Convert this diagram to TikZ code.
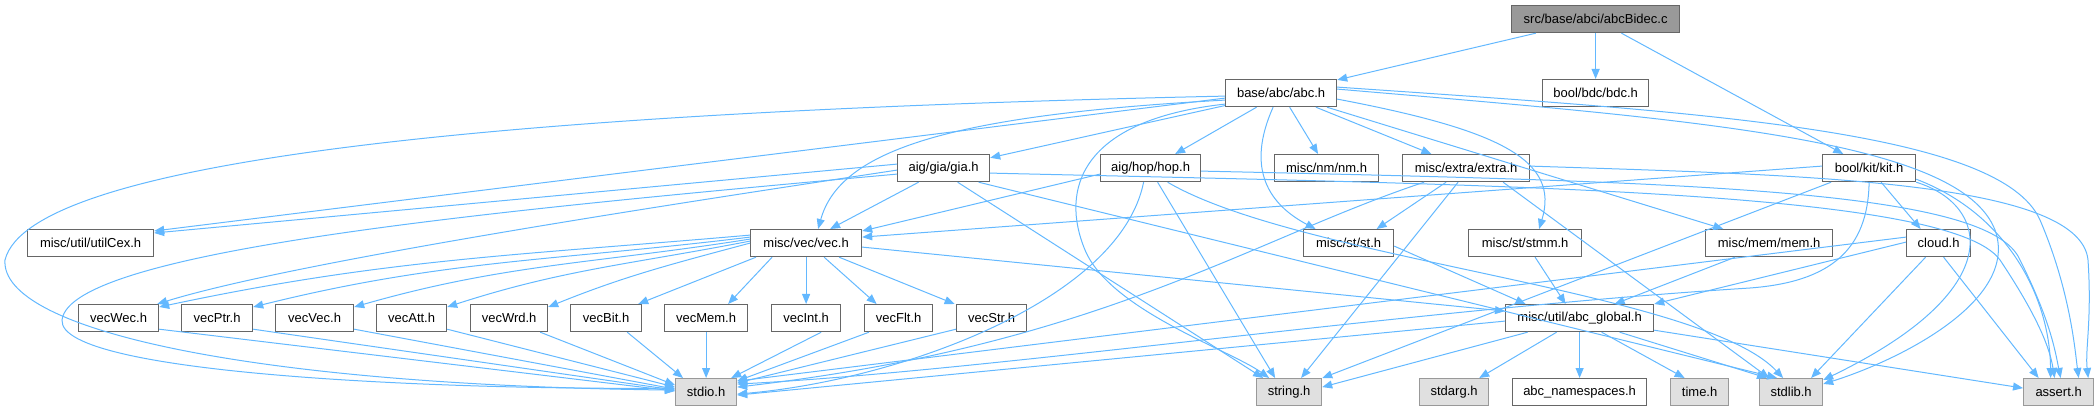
\documentclass[tikz,border=0pt]{standalone}
\usepackage{fontspec}
\setmainfont{Liberation Sans}
\usetikzlibrary{arrows.meta}
\definecolor{edgec}{HTML}{63B8FF}
\definecolor{boxline}{HTML}{666666}
\definecolor{sysline}{HTML}{999999}
\definecolor{sysfill}{HTML}{E0E0E0}
\definecolor{mainfill}{HTML}{999999}
\tikzset{
  x=1pt,y=-1pt,
  box/.style={draw=boxline,fill=white,line width=1.2pt,rectangle,anchor=north west,minimum height=27pt,inner sep=0pt,font=\fontsize{13}{15}\selectfont,text=black},
  sysbox/.style={box,draw=sysline,fill=sysfill},
  mainbox/.style={box,fill=mainfill},
  edge/.style={draw=edgec,line width=1pt,-{Triangle[length=10pt,width=8pt]}}
}
\begin{document}
\begin{tikzpicture}
\useasboundingbox (0,0) rectangle (2100,411);
% rank 0
\node[mainbox,minimum width=168pt] (main) at (1511,5) {src/base/abci/abcBidec.c};
% rank 1
\node[box,minimum width=111pt] (abc) at (1225,79) {base/abc/abc.h};
\node[box,minimum width=106pt] (bdc) at (1542,79) {bool/bdc/bdc.h};
% rank 2
\node[box,minimum width=92pt] (gia) at (897,154) {aig/gia/gia.h};
\node[box,minimum width=100pt] (hop) at (1100,154) {aig/hop/hop.h};
\node[box,minimum width=104pt] (nm) at (1274,154) {misc/nm/nm.h};
\node[box,minimum width=127pt] (extra) at (1402,154) {misc/extra/extra.h};
\node[box,minimum width=93pt] (kit) at (1822,154) {bool/kit/kit.h};
% rank 3
\node[box,minimum width=126pt] (utilCex) at (27,229) {misc/util/utilCex.h};
\node[box,minimum width=111pt] (vec) at (750,229) {misc/vec/vec.h};
\node[box,minimum width=90pt] (st) at (1303,229) {misc/st/st.h};
\node[box,minimum width=113pt] (stmm) at (1468,229) {misc/st/stmm.h};
\node[box,minimum width=127pt] (mem) at (1705,229) {misc/mem/mem.h};
\node[box,minimum width=64pt] (cloud) at (1906,229) {cloud.h};
% rank 4
\node[box,minimum width=80pt] (vecWec) at (78,304) {vecWec.h};
\node[box,minimum width=71pt] (vecPtr) at (181,304) {vecPtr.h};
\node[box,minimum width=78pt] (vecVec) at (275,304) {vecVec.h};
\node[box,minimum width=70pt] (vecAtt) at (376,304) {vecAtt.h};
\node[box,minimum width=77pt] (vecWrd) at (470,304) {vecWrd.h};
\node[box,minimum width=71pt] (vecBit) at (570,304) {vecBit.h};
\node[box,minimum width=83pt] (vecMem) at (664,304) {vecMem.h};
\node[box,minimum width=69pt] (vecInt) at (771,304) {vecInt.h};
\node[box,minimum width=68pt] (vecFlt) at (864,304) {vecFlt.h};
\node[box,minimum width=70pt] (vecStr) at (956,304) {vecStr.h};
\node[box,minimum width=148pt] (abcglobal) at (1505,304) {misc/util/abc\_global.h};
% rank 5
\node[sysbox,minimum width=61pt] (stdio) at (675,378) {stdio.h};
\node[sysbox,minimum width=65pt] (string) at (1256,378) {string.h};
\node[sysbox,minimum width=69pt] (stdarg) at (1419,378) {stdarg.h};
\node[box,minimum width=134pt] (abcns) at (1512,378) {abc\_namespaces.h};
\node[sysbox,minimum width=58pt] (time) at (1670,378) {time.h};
\node[sysbox,minimum width=63pt] (stdlib) at (1759,378) {stdlib.h};
\node[sysbox,minimum width=70pt] (assert) at (2023,378) {assert.h};

% main
\draw[edge] (main) -- (abc);
\draw[edge] (main) -- (bdc);
\draw[edge] (main) -- (kit);
% abc.h
\draw[edge] ([yshift=-3pt]abc.west) .. controls (500,112) and (30,160) .. (5,260) .. controls (0,330) and (250,385) .. ([yshift=2pt]stdio.west);
\draw[edge] ([yshift=-5pt]abc.west) -- ([yshift=-2pt]utilCex.north east);
\draw[edge] ([yshift=-7pt]abc.west) .. controls (950,115) and (840,150) .. ([xshift=12pt]vec.north);
\draw[edge] (abc) -- (gia);
\draw[edge] (abc) -- (hop);
\draw[edge] (abc) -- (nm);
\draw[edge] (abc) -- (extra);
\draw[edge] ([yshift=-11pt]abc.west) .. controls (1080,120) and (1060,190) .. (1085,250) .. controls (1110,310) and (1230,350) .. ([xshift=-20pt]string.north);
\draw[edge] ([xshift=-8pt]abc.south) .. controls (1245,170) and (1270,205) .. ([xshift=-33pt]st.north);
\draw[edge] ([yshift=-6pt]abc.east) .. controls (1500,130) and (1560,160) .. ([xshift=14pt]stmm.north);
\draw[edge] (abc) -- (mem);
\draw[edge] ([yshift=4pt]abc.east) .. controls (1700,120) and (1960,140) .. (1995,230) .. controls (2020,300) and (1900,360) .. ([yshift=-6pt]stdlib.north east);
\draw[edge] ([yshift=6pt]abc.east) .. controls (1700,112) and (2000,130) .. (2040,220) .. controls (2070,290) and (2075,350) .. ([xshift=20pt]assert.north);
% gia.h
\draw[edge] ([yshift=4pt]gia.west) -- ([yshift=-4pt]utilCex.north east);
\draw[edge] ([xshift=-25pt]gia.south) -- ([xshift=24pt]vec.north);
\draw[edge] ([yshift=-2pt]gia.west) .. controls (700,200) and (300,260) .. ([xshift=-2pt]vecWec.north east);
\draw[edge] ([yshift=-6pt]gia.west) .. controls (500,210) and (70,250) .. (62,320) .. controls (58,375) and (450,390) .. ([yshift=4pt]stdio.west);
\draw[edge] ([xshift=14pt]gia.south) -- ([xshift=-26pt]string.north);
\draw[edge] ([xshift=35pt]gia.south) -- ([xshift=-14pt]stdlib.north);
\draw[edge] ([yshift=-5pt]gia.east) .. controls (1500,185) and (1950,190) .. (2000,260) .. controls (2040,320) and (2050,350) .. ([xshift=-4pt]assert.north);
% hop.h
\draw[edge] ([yshift=-6pt]hop.west) -- ([yshift=-2pt]vec.north east);
\draw[edge] ([xshift=-7pt]hop.south) .. controls (1120,300) and (900,380) .. ([yshift=-2pt]stdio.east);
\draw[edge] ([xshift=7pt]hop.south) -- ([xshift=-14pt]string.north);
\draw[edge] ([xshift=17pt]hop.south) .. controls (1300,260) and (1700,290) .. ([xshift=-8pt]stdlib.north);
\draw[edge] ([yshift=-3pt]hop.east) .. controls (1700,182) and (1990,190) .. (2020,260) .. controls (2050,320) and (2055,350) .. ([xshift=2pt]assert.north);
% extra.h
\draw[edge] ([xshift=-42pt]extra.south) .. controls (1250,240) and (1100,345) .. ([yshift=5pt]stdio.east);
\draw[edge] ([xshift=-8pt]extra.south) -- ([xshift=12pt]string.north);
\draw[edge] ([xshift=-20pt]extra.south) -- ([xshift=28pt]st.north);
\draw[edge] ([xshift=37pt]extra.south) -- ([xshift=-22pt]stdlib.north);
\draw[edge] ([yshift=2pt]extra.east) .. controls (1800,175) and (2080,180) .. (2088,260) .. controls (2092,320) and (2085,350) .. ([xshift=-6pt]assert.north east);
% kit.h
\draw[edge] ([yshift=2pt]kit.west) -- ([yshift=6pt]vec.east);
\draw[edge] (kit.south) .. controls (1868,250) and (1830,282) .. (1750,288) .. controls (1400,310) and (1000,370) .. ([yshift=8pt]stdio.east);
\draw[edge] ([xshift=-38pt]kit.south) -- (string.north east);
\draw[edge] ([xshift=12pt]kit.south) -- ([xshift=-18pt]cloud.north);
\draw[edge] (kit.south east) .. controls (1990,205) and (2010,290) .. ([yshift=-2pt]stdlib.north east);
\draw[edge] ([yshift=3pt]kit.south east) .. controls (2010,215) and (2050,300) .. ([xshift=-8pt]assert.north);
% cloud.h
\draw[edge] ([yshift=6pt]cloud.west) -- ([yshift=11pt]stdio.east);
\draw[edge] ([yshift=1pt]cloud.west) -- (abcglobal.north east);
\draw[edge] ([xshift=-13pt]cloud.south) -- ([xshift=20pt]stdlib.north);
\draw[edge] ([xshift=5pt]cloud.south) -- ([xshift=-20pt]assert.north);
% vec.h
\draw[edge] ([yshift=8pt]vec.west) to[out=185,in=12] ([yshift=-3pt]vecWec.north east);
\draw[edge] ([yshift=6pt]vec.west) to[out=187,in=14] ([yshift=-3pt]vecPtr.north east);
\draw[edge] ([yshift=4pt]vec.west) to[out=189,in=16] ([yshift=-3pt]vecVec.north east);
\draw[edge] ([yshift=2pt]vec.west) to[out=191,in=18] ([yshift=-3pt]vecAtt.north east);
\draw[edge] ([yshift=0pt]vec.west) to[out=195,in=22] ([yshift=-3pt]vecWrd.north east);
\draw[edge] ([xshift=6pt]vec.south west) -- ([xshift=-4pt]vecBit.north east);
\draw[edge] ([xshift=-34pt]vec.south) -- ([xshift=22pt]vecMem.north);
\draw[edge] (vec.south) -- (vecInt.north);
\draw[edge] ([xshift=18pt]vec.south) -- ([xshift=-22pt]vecFlt.north);
\draw[edge] ([xshift=33pt]vec.south) -- ([xshift=-37pt]vecStr.north);
\draw[edge] ([yshift=-4pt]vec.east) -- ([yshift=7pt]abcglobal.west);
% vec*.h -> stdio
\draw[edge] ([yshift=3pt]vecWec.south east) -- ([yshift=1pt]stdio.west);
\draw[edge] ([yshift=3pt]vecPtr.south east) -- ([yshift=2pt]stdio.west);
\draw[edge] ([yshift=3pt]vecVec.south east) -- ([yshift=3pt]stdio.west);
\draw[edge] ([yshift=3pt]vecAtt.south east) -- ([yshift=5pt]stdio.west);
\draw[edge] ([xshift=-8pt]vecWrd.south east) -- ([yshift=7pt]stdio.west);
\draw[edge] ([xshift=-15pt]vecBit.south east) -- ([xshift=8pt]stdio.north west);
\draw[edge] (vecMem.south) -- (stdio.north);
\draw[edge] ([xshift=-20pt]vecInt.south east) -- ([xshift=-6pt]stdio.north east);
\draw[edge] ([xshift=5pt]vecFlt.south west) -- ([yshift=-3pt]stdio.north east);
\draw[edge] ([yshift=3pt]vecStr.south west) -- ([yshift=-5pt]stdio.north east);
% st, stmm, mem
\draw[edge] ([yshift=-3pt]st.east) -- ([xshift=-54pt]abcglobal.north);
\draw[edge] ([xshift=10pt]stmm.south) -- ([xshift=-14pt]abcglobal.north);
\draw[edge] ([xshift=-34pt]mem.south) -- ([xshift=35pt]abcglobal.north);
% abc_global
\draw[edge] ([yshift=-3pt]abcglobal.west) -- ([yshift=-3pt]stdio.east);
\draw[edge] ([xshift=-52pt]abcglobal.south) -- ([yshift=5pt]string.east);
\draw[edge] ([xshift=-23pt]abcglobal.south) -- ([xshift=-10pt]stdarg.north east);
\draw[edge] (abcglobal.south) -- (abcns.north);
\draw[edge] ([xshift=22pt]abcglobal.south) -- ([xshift=-15pt]time.north);
\draw[edge] ([xshift=40pt]abcglobal.south) -- ([xshift=8pt]stdlib.north west);
\draw[edge] ([yshift=2pt]abcglobal.south east) -- ([yshift=4pt]assert.west);
\end{tikzpicture}
\end{document}
